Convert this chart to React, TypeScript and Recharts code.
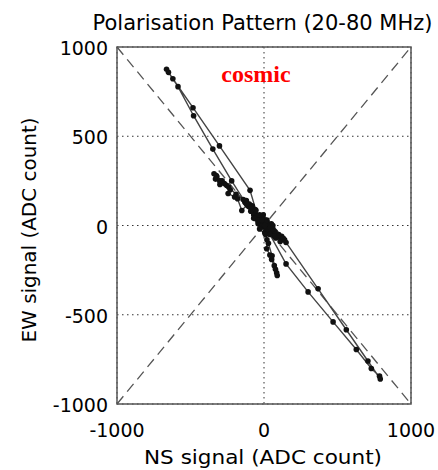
import React from "react";
import {
  ScatterChart,
  Scatter,
  XAxis,
  YAxis,
  CartesianGrid,
  ReferenceLine,
  ReferenceArea,
} from "recharts";

// NS signal (x) and EW signal (y), in trace order (ADC counts)
const nsSignal = [
  0, -20, 25, -45, 40, -80, -130, -190, -240, -285,
  -321, -340, -325, -330, -300, -270, -300, -255, -230, -244,
  -200, -180, -151, -110, -60, -20, 15, 20, 18, 40,
  52, 70, 86, 90, 78, 55, 30, 5, -30, -70,
  -100, -130, -142, -120, -100, -110, -90, -80, -70, -60,
  -40, -35, -20, 0, 10, -20, 30, 50, 60, 90,
  80, 125, 150, 140, 120, 115, 100, 110, 75, 70,
  35, 30, -10, -10, -50, -90, -70, -30, 10, 50,
  -5, 0, 20, 40, 60, -60, -55,
  -95, -303, -483, -620, -663, -650, -585, -479, -348, -220,
  -120, -40, 40, 150, 300, 470, 628, 730, 786, 791,
  707, 560, 368, 131, 60, 20, -30, 10, -15, 5,
];
const ewSignal = [
  10, 30, -15, 55, -35, 95, 140, 175, 215, 250,
  274, 290, 280, 260, 230, 235, 250, 225, 200, 179,
  160, 150, 84, 120, 75, 30, -30, -80, -130, -165,
  -190, -225, -265, -280, -245, -170, -100, -40, 20, 70,
  105, 130, 145, 140, 120, 110, 80, 110, 60, 90,
  10, 30, 50, 0, -10, -10, -40, -40, -30, -60,
  -70, -80, -95, -80, -60, -70, -50, -90, -35, -60,
  5, -30, 40, 0, 50, 100, 40, -20, -50, 10,
  60, 30, 10, -10, -20, 40, 85,
  197, 446, 660, 822, 875, 858, 778, 615, 428, 250,
  120, 30, -50, -215, -372, -540, -695, -801, -844, -860,
  -759, -584, -355, -72, 0, 30, 60, 20, 30, 0,
];

const xTicks = [-1000, 0, 1000];
const yTicks = [-1000, -500, 0, 500, 1000];
const diagonalA = [
  { x: -1000, y: -1000 },
  { x: 1000, y: 1000 },
];
const diagonalB = [
  { x: -1000, y: 1000 },
  { x: 1000, y: -1000 },
];

const trace = nsSignal.map((v, i) => ({ ns: v, ew: ewSignal[i] }));

const FONT = "'DejaVu Sans', Arial, sans-serif";

const Dot = (props: any) => {
  const { cx, cy } = props;
  if (cx == null || cy == null) return null;
  return <circle cx={cx} cy={cy} r={2.8} fill="#111" />;
};

const XTick = (props: any) => {
  const { x, y, payload } = props;
  return (
    <text x={x} y={y + 33} textAnchor="middle" fontSize={19} fontFamily={FONT} fill="#000">
      {payload.value}
    </text>
  );
};

const YTick = (props: any) => {
  const { x, y, payload } = props;
  return (
    <text x={x - 9} y={y + 8} textAnchor="end" fontSize={19} fontFamily={FONT} fill="#000">
      {payload.value}
    </text>
  );
};

export default function App() {
  return (
    <div style={{ position: "absolute", left: 0, top: 0, width: 438, height: 470, background: "#fff" }}>
      <ScatterChart
        width={438}
        height={470}
        margin={{ top: 47, right: 27, bottom: 0, left: 0 }}
      >
        <CartesianGrid stroke="#333" strokeDasharray="1.5 3.5" strokeWidth={1} />
        <XAxis
          type="number"
          dataKey="ns"
          domain={[-1000, 1000]}
          ticks={xTicks}
          height={66}
          axisLine={false}
          tickLine={false}
          tickSize={0}
          tickMargin={0}
          tick={<XTick />}
          interval={0}
          allowDataOverflow
        />
        <YAxis
          type="number"
          dataKey="ew"
          domain={[-1000, 1000]}
          ticks={yTicks}
          width={117}
          axisLine={false}
          tickLine={false}
          tickSize={0}
          tickMargin={0}
          tick={<YTick />}
          interval={0}
          allowDataOverflow
        />
        <ReferenceLine segment={diagonalA} stroke="#555" strokeWidth={1.3} strokeDasharray="10 6" />
        <ReferenceLine segment={diagonalB} stroke="#555" strokeWidth={1.3} strokeDasharray="10 6" />
        <Scatter
          data={trace}
          line={{ stroke: "#444", strokeWidth: 1.4 }}
          lineType="joint"
          shape={<Dot />}
          isAnimationActive={false}
        />
        <ReferenceArea
          x1={-1000}
          x2={1000}
          y1={-1000}
          y2={1000}
          fill="none"
          stroke="#555"
          strokeWidth={1.5}
        />
      </ScatterChart>
      <svg
        width={438}
        height={470}
        style={{ position: "absolute", left: 0, top: 0, pointerEvents: "none" }}
      >
        <text x={262.5} y={30} textAnchor="middle" fontSize={21} fontFamily={FONT} fill="#000">
          Polarisation Pattern (20-80 MHz)
        </text>
        <text
          x={263}
          y={464}
          textAnchor="middle"
          fontSize={20}
          fontFamily={FONT}
          fill="#000"
          textLength={238}
          lengthAdjust="spacingAndGlyphs"
        >
          NS signal (ADC count)
        </text>
        <text
          x={0}
          y={0}
          transform="translate(36,230) rotate(-90)"
          textAnchor="middle"
          fontSize={20}
          fontFamily={FONT}
          fill="#000"
          textLength={225}
          lengthAdjust="spacingAndGlyphs"
        >
          EW signal (ADC count)
        </text>
        <text
          x={256}
          y={82}
          textAnchor="middle"
          fontSize={24}
          fontWeight="bold"
          fontFamily="'Liberation Serif', 'Times New Roman', serif"
          fill="#f00"
        >
          cosmic
        </text>
      </svg>
    </div>
  );
}
